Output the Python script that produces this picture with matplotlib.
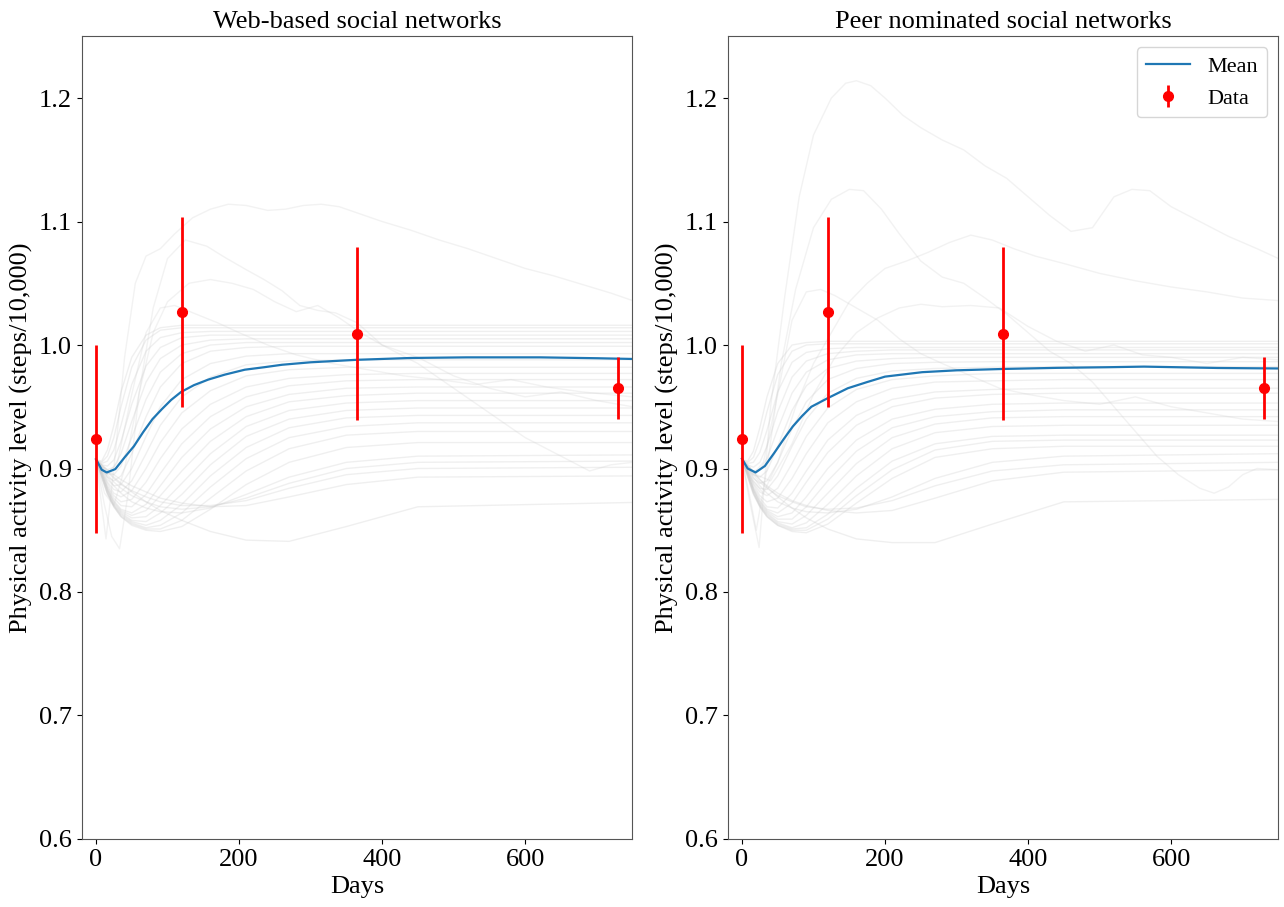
import matplotlib
matplotlib.use("Agg")
import matplotlib.pyplot as plt

plt.rcParams["font.family"] = ["Liberation Serif", "DejaVu Serif"]

# observed data (both panels use the same measurements)
data_days = [0, 120, 365, 730]
data_vals = [0.924, 1.027, 1.009, 0.965]
data_err = [0.076, 0.077, 0.070, 0.025]

# sample days used for the smooth simulated runs
run_days = [0, 8, 16, 25, 35, 50, 70, 90, 120, 160, 210, 270, 350, 450, 750]

web_runs = [
    [0.907, 0.906, 0.915, 0.935, 0.962, 0.990, 1.008, 1.014, 1.016, 1.016, 1.016, 1.016, 1.016, 1.016, 1.016],
    [0.907, 0.905, 0.910, 0.925, 0.950, 0.982, 1.004, 1.012, 1.014, 1.014, 1.014, 1.014, 1.014, 1.014, 1.014],
    [0.907, 0.904, 0.906, 0.915, 0.935, 0.968, 0.995, 1.006, 1.010, 1.011, 1.011, 1.011, 1.011, 1.011, 1.011],
    [0.907, 0.903, 0.902, 0.907, 0.922, 0.952, 0.983, 0.998, 1.006, 1.008, 1.008, 1.008, 1.008, 1.008, 1.008],
    [0.907, 0.902, 0.899, 0.901, 0.912, 0.938, 0.970, 0.989, 1.000, 1.004, 1.005, 1.005, 1.005, 1.005, 1.005],
    [0.907, 0.901, 0.896, 0.895, 0.902, 0.925, 0.956, 0.978, 0.993, 1.000, 1.002, 1.002, 1.002, 1.002, 1.002],
    [0.907, 0.900, 0.893, 0.890, 0.894, 0.912, 0.942, 0.966, 0.985, 0.995, 0.998, 0.999, 0.999, 0.999, 0.999],
    [0.907, 0.899, 0.891, 0.886, 0.887, 0.900, 0.926, 0.950, 0.972, 0.985, 0.991, 0.993, 0.993, 0.993, 0.993],
    [0.907, 0.898, 0.889, 0.883, 0.881, 0.890, 0.912, 0.935, 0.958, 0.974, 0.984, 0.987, 0.988, 0.988, 0.988],
    [0.907, 0.898, 0.888, 0.880, 0.877, 0.882, 0.900, 0.921, 0.945, 0.963, 0.975, 0.980, 0.982, 0.982, 0.982],
    [0.907, 0.897, 0.886, 0.878, 0.873, 0.875, 0.889, 0.908, 0.932, 0.952, 0.966, 0.973, 0.976, 0.977, 0.977],
    [0.907, 0.897, 0.885, 0.876, 0.870, 0.869, 0.879, 0.896, 0.920, 0.942, 0.958, 0.967, 0.971, 0.972, 0.972],
    [0.907, 0.896, 0.884, 0.874, 0.867, 0.864, 0.871, 0.886, 0.909, 0.932, 0.950, 0.960, 0.965, 0.966, 0.966],
    [0.907, 0.896, 0.883, 0.873, 0.866, 0.862, 0.866, 0.878, 0.898, 0.922, 0.942, 0.954, 0.959, 0.961, 0.961],
    [0.907, 0.895, 0.883, 0.872, 0.865, 0.860, 0.861, 0.870, 0.888, 0.912, 0.934, 0.947, 0.953, 0.955, 0.955],
    [0.907, 0.895, 0.882, 0.871, 0.864, 0.858, 0.857, 0.864, 0.879, 0.903, 0.926, 0.940, 0.947, 0.949, 0.949],
    [0.907, 0.894, 0.881, 0.870, 0.863, 0.857, 0.854, 0.858, 0.871, 0.894, 0.917, 0.933, 0.941, 0.943, 0.943],
    [0.907, 0.894, 0.880, 0.870, 0.862, 0.856, 0.852, 0.854, 0.864, 0.885, 0.908, 0.925, 0.934, 0.937, 0.937],
    [0.907, 0.893, 0.880, 0.869, 0.861, 0.855, 0.851, 0.851, 0.858, 0.876, 0.898, 0.916, 0.927, 0.930, 0.930],
    [0.907, 0.893, 0.879, 0.869, 0.861, 0.854, 0.850, 0.849, 0.853, 0.867, 0.887, 0.905, 0.917, 0.921, 0.921],
    [0.907, 0.900, 0.893, 0.886, 0.880, 0.873, 0.868, 0.865, 0.864, 0.868, 0.879, 0.893, 0.905, 0.910, 0.911],
    [0.907, 0.901, 0.895, 0.889, 0.884, 0.878, 0.873, 0.869, 0.867, 0.869, 0.876, 0.888, 0.900, 0.905, 0.906],
    [0.907, 0.902, 0.897, 0.892, 0.887, 0.882, 0.877, 0.873, 0.870, 0.870, 0.874, 0.884, 0.895, 0.900, 0.901],
    [0.907, 0.903, 0.899, 0.895, 0.891, 0.886, 0.881, 0.876, 0.872, 0.869, 0.870, 0.877, 0.887, 0.893, 0.894],
    [0.907, 0.903, 0.898, 0.893, 0.888, 0.881, 0.873, 0.866, 0.858, 0.849, 0.842, 0.841, 0.853, 0.869, 0.8725],
]

peer_runs = [
    [0.907, 0.906, 0.914, 0.933, 0.958, 0.985, 1.000, 1.002, 1.003, 1.003, 1.003, 1.003, 1.003, 1.003, 1.003],
    [0.907, 0.905, 0.909, 0.923, 0.946, 0.976, 0.995, 1.000, 1.001, 1.001, 1.001, 1.001, 1.001, 1.001, 1.001],
    [0.907, 0.904, 0.905, 0.913, 0.931, 0.962, 0.986, 0.994, 0.997, 0.998, 0.998, 0.998, 0.998, 0.998, 0.998],
    [0.907, 0.903, 0.901, 0.905, 0.918, 0.946, 0.974, 0.987, 0.993, 0.995, 0.996, 0.996, 0.996, 0.996, 0.996],
    [0.907, 0.902, 0.898, 0.899, 0.908, 0.932, 0.961, 0.978, 0.988, 0.992, 0.993, 0.993, 0.993, 0.993, 0.993],
    [0.907, 0.901, 0.895, 0.893, 0.898, 0.918, 0.947, 0.967, 0.981, 0.987, 0.989, 0.990, 0.990, 0.990, 0.990],
    [0.907, 0.900, 0.892, 0.888, 0.890, 0.905, 0.932, 0.954, 0.972, 0.981, 0.985, 0.986, 0.9865, 0.9865, 0.9865],
    [0.907, 0.899, 0.890, 0.884, 0.883, 0.894, 0.918, 0.940, 0.961, 0.973, 0.979, 0.981, 0.982, 0.9825, 0.9825],
    [0.907, 0.898, 0.888, 0.881, 0.878, 0.884, 0.904, 0.926, 0.949, 0.964, 0.972, 0.975, 0.977, 0.977, 0.977],
    [0.907, 0.898, 0.887, 0.878, 0.873, 0.876, 0.892, 0.912, 0.937, 0.954, 0.965, 0.970, 0.971, 0.972, 0.972],
    [0.907, 0.897, 0.885, 0.876, 0.869, 0.868, 0.880, 0.898, 0.923, 0.943, 0.956, 0.962, 0.964, 0.965, 0.965],
    [0.907, 0.897, 0.884, 0.874, 0.867, 0.864, 0.872, 0.889, 0.913, 0.935, 0.950, 0.957, 0.960, 0.961, 0.961],
    [0.907, 0.896, 0.883, 0.873, 0.866, 0.861, 0.864, 0.877, 0.900, 0.923, 0.940, 0.948, 0.952, 0.953, 0.953],
    [0.907, 0.896, 0.883, 0.872, 0.865, 0.859, 0.859, 0.869, 0.890, 0.914, 0.933, 0.942, 0.946, 0.9475, 0.9475],
    [0.907, 0.895, 0.882, 0.871, 0.864, 0.857, 0.855, 0.862, 0.880, 0.904, 0.925, 0.936, 0.941, 0.942, 0.942],
    [0.907, 0.895, 0.881, 0.870, 0.863, 0.856, 0.852, 0.856, 0.871, 0.894, 0.916, 0.929, 0.934, 0.935, 0.935],
    [0.907, 0.894, 0.880, 0.870, 0.862, 0.855, 0.851, 0.852, 0.863, 0.884, 0.906, 0.920, 0.926, 0.927, 0.927],
    [0.907, 0.894, 0.880, 0.869, 0.861, 0.854, 0.850, 0.850, 0.859, 0.878, 0.899, 0.915, 0.922, 0.923, 0.923],
    [0.907, 0.893, 0.879, 0.869, 0.861, 0.854, 0.849, 0.848, 0.855, 0.872, 0.892, 0.909, 0.916, 0.918, 0.918],
    [0.907, 0.900, 0.893, 0.886, 0.880, 0.873, 0.868, 0.865, 0.864, 0.867, 0.877, 0.892, 0.905, 0.910, 0.912],
    [0.907, 0.901, 0.895, 0.889, 0.884, 0.878, 0.873, 0.869, 0.867, 0.868, 0.874, 0.886, 0.898, 0.903, 0.905],
    [0.907, 0.902, 0.897, 0.891, 0.886, 0.880, 0.874, 0.870, 0.866, 0.864, 0.866, 0.876, 0.890, 0.897, 0.899],
    [0.907, 0.903, 0.897, 0.891, 0.885, 0.877, 0.868, 0.860, 0.851, 0.843, 0.840, 0.840, 0.855, 0.873, 0.875],
]

# the few noisy runs that wander far from the plateau, as (days, values)
web_noisy = [
    ([0, 8, 14, 25, 40, 55, 70, 90, 110, 135, 160, 185, 210, 240, 265, 290, 315, 340, 370, 400, 440, 480, 520, 560, 600, 640, 680, 720, 750],
     [0.907, 0.870, 0.843, 0.900, 0.990, 1.050, 1.072, 1.078, 1.090, 1.103, 1.110, 1.114, 1.113, 1.109, 1.110, 1.113, 1.114, 1.112, 1.106, 1.100, 1.093, 1.085, 1.078, 1.070, 1.062, 1.056, 1.049, 1.042, 1.036]),
    ([0, 12, 22, 33, 45, 60, 80, 100, 125, 155, 180, 210, 235, 260, 285, 310, 335, 365, 400, 450, 500, 550, 600, 650, 690, 720, 750],
     [0.907, 0.870, 0.845, 0.835, 0.880, 0.960, 1.030, 1.070, 1.085, 1.080, 1.071, 1.061, 1.053, 1.044, 1.032, 1.028, 1.026, 1.018, 1.000, 0.985, 0.965, 0.945, 0.925, 0.910, 0.898, 0.903, 0.905]),
    ([0, 12, 25, 40, 60, 80, 100, 130, 160, 190, 220, 250, 280, 310, 340, 370, 400, 450, 500, 550, 600, 650, 700, 750],
     [0.907, 0.880, 0.870, 0.900, 0.960, 1.010, 1.035, 1.050, 1.053, 1.050, 1.045, 1.035, 1.027, 1.032, 1.022, 1.010, 1.000, 0.990, 0.975, 0.965, 0.958, 0.962, 0.955, 0.950]),
    ([0, 15, 30, 50, 70, 90, 110, 140, 170, 200, 240, 280, 330, 380, 430, 480, 530, 580, 630, 680, 750],
     [0.907, 0.895, 0.905, 0.960, 1.010, 1.030, 1.032, 1.025, 1.018, 1.010, 1.000, 0.992, 0.985, 0.980, 0.975, 0.972, 0.968, 0.972, 0.966, 0.962, 0.958]),
]

peer_noisy = [
    ([0, 12, 24, 40, 60, 80, 100, 125, 145, 160, 180, 200, 225, 250, 280, 310, 340, 370, 400, 430, 460, 490, 520, 545, 570, 600, 640, 680, 720, 750],
     [0.907, 0.870, 0.836, 0.950, 1.040, 1.120, 1.170, 1.200, 1.212, 1.214, 1.210, 1.200, 1.186, 1.176, 1.166, 1.158, 1.145, 1.135, 1.120, 1.105, 1.092, 1.095, 1.120, 1.126, 1.125, 1.112, 1.100, 1.088, 1.078, 1.070]),
    ([0, 10, 20, 35, 55, 75, 100, 125, 150, 170, 195, 220, 250, 280, 310, 340, 370, 400, 430, 460, 490, 520, 550, 580, 610, 640, 660, 680, 700, 720, 750],
     [0.907, 0.880, 0.850, 0.900, 0.985, 1.045, 1.095, 1.118, 1.126, 1.125, 1.110, 1.090, 1.068, 1.055, 1.050, 1.038, 1.025, 1.010, 0.995, 0.985, 0.970, 0.950, 0.930, 0.910, 0.895, 0.884, 0.880, 0.885, 0.895, 0.900, 0.899]),
    ([0, 15, 30, 50, 75, 100, 125, 150, 175, 200, 230, 260, 290, 320, 350, 380, 410, 450, 500, 550, 600, 650, 700, 750],
     [0.907, 0.890, 0.880, 0.905, 0.950, 0.985, 1.010, 1.035, 1.050, 1.062, 1.068, 1.075, 1.083, 1.089, 1.085, 1.078, 1.072, 1.066, 1.058, 1.052, 1.047, 1.043, 1.038, 1.036]),
    ([0, 15, 30, 50, 70, 90, 110, 130, 160, 190, 220, 250, 280, 320, 360, 400, 450, 500, 550, 600, 650, 700, 750],
     [0.907, 0.895, 0.905, 0.960, 1.020, 1.043, 1.045, 1.040, 1.030, 1.020, 1.005, 0.993, 0.985, 0.975, 0.965, 0.960, 0.955, 0.952, 0.958, 0.950, 0.945, 0.940, 0.938]),
    ([0, 20, 40, 70, 100, 130, 160, 190, 220, 250, 280, 320, 360, 400, 440, 480, 520, 560, 600, 650, 700, 750],
     [0.907, 0.895, 0.890, 0.920, 0.960, 0.990, 1.010, 1.022, 1.030, 1.033, 1.031, 1.032, 1.030, 1.015, 1.003, 0.995, 1.000, 0.992, 0.990, 0.985, 0.990, 0.988]),
]

# mean of the simulated runs
web_mean_days = [0, 8, 15, 27, 40, 53, 66, 79, 92, 105, 119, 137, 157, 180, 208, 235, 260, 300, 364, 440, 518, 621, 700, 750]
web_mean_vals = [0.9075, 0.899, 0.8968, 0.8995, 0.909, 0.918, 0.9295, 0.940, 0.948, 0.9555, 0.962, 0.9675, 0.972, 0.976, 0.980, 0.982, 0.984, 0.986, 0.988, 0.9895, 0.990, 0.990, 0.9893, 0.9887]

peer_mean_days = [0, 8, 19, 32, 45, 58, 71, 84, 97, 120, 148, 175, 200, 252, 300, 365, 440, 510, 562, 665, 750]
peer_mean_vals = [0.9079, 0.900, 0.8968, 0.902, 0.9125, 0.9235, 0.934, 0.9425, 0.950, 0.957, 0.965, 0.970, 0.9744, 0.978, 0.9795, 0.9806, 0.9815, 0.982, 0.9825, 0.9814, 0.981]


def draw_panel(ax, runs, noisy, mean_days, mean_vals, title, legend=False):
    for run in runs:
        ax.plot(run_days, run, color="0.8", alpha=0.3, lw=1.0, zorder=1)
    for days, vals in noisy:
        ax.plot(days, vals, color="0.8", alpha=0.25, lw=1.0, zorder=1)
    ax.plot(mean_days, mean_vals, color="#1f77b4", lw=1.6, label="Mean", zorder=3)
    ax.errorbar(data_days, data_vals, yerr=data_err, fmt="o", color="red",
                markersize=7, elinewidth=2, capsize=0, label="Data", zorder=4)
    ax.set_xlim(-20, 750)
    ax.set_ylim(0.6, 1.25)
    ax.set_xticks([0, 200, 400, 600])
    ax.set_yticks([0.6, 0.7, 0.8, 0.9, 1.0, 1.1, 1.2])
    ax.set_title(title, fontsize=19)
    ax.set_xlabel("Days", fontsize=19)
    ax.set_ylabel("Physical activity level (steps/10,000)", fontsize=19)
    ax.tick_params(labelsize=19)
    for sp in ax.spines.values():
        sp.set_color("#555555")
    if legend:
        ax.legend(loc="upper right", fontsize=16)


def main():
    fig = plt.figure(figsize=(12.84, 9.07), dpi=100)
    ax1 = fig.add_axes([0.0636, 0.075, 0.429, 0.885])
    ax2 = fig.add_axes([0.5667, 0.075, 0.429, 0.885])

    draw_panel(ax1, web_runs, web_noisy, web_mean_days, web_mean_vals,
               "Web-based social networks")
    draw_panel(ax2, peer_runs, peer_noisy, peer_mean_days, peer_mean_vals,
               "Peer nominated social networks", legend=True)

    fig.savefig("out.png", dpi=100)


if __name__ == "__main__":
    main()
